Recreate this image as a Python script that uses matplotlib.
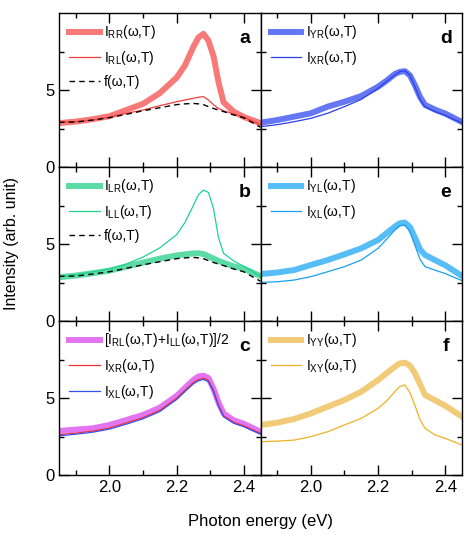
import numpy as np
import matplotlib
matplotlib.use('Agg')
import matplotlib.pyplot as plt
from matplotlib.ticker import MultipleLocator

plt.rcParams['font.family'] = ['Liberation Sans', 'DejaVu Sans']
plt.rcParams['mathtext.fontset'] = 'custom'
plt.rcParams['mathtext.rm'] = 'Liberation Sans'
plt.rcParams['mathtext.it'] = 'Liberation Sans:italic'

# энергия фотона (эВ)
E = [1.85, 1.90, 1.95, 2.00, 2.05, 2.10, 2.15, 2.20, 2.225, 2.25, 2.265, 2.28, 2.295, 2.31, 2.325, 2.34, 2.37, 2.40, 2.45]

# панель a
I_RR = [2.85, 2.95, 3.10, 3.30, 3.70, 4.10, 4.80, 5.80, 6.60, 7.80, 8.40, 8.65, 8.20, 7.20, 5.50, 4.20, 3.60, 3.25, 2.85]
I_RL = [2.90, 2.95, 3.05, 3.25, 3.48, 3.70, 3.98, 4.24, 4.35, 4.46, 4.53, 4.57, 4.35, 4.05, 3.80, 3.65, 3.45, 3.25, 2.75]
f_wT = [2.90, 2.92, 3.05, 3.20, 3.42, 3.65, 3.85, 4.05, 4.10, 4.13, 4.10, 4.05, 3.92, 3.80, 3.70, 3.60, 3.38, 3.20, 2.58]
# панель b
I_LR = [2.84, 2.95, 3.10, 3.27, 3.53, 3.79, 4.05, 4.26, 4.33, 4.39, 4.40, 4.35, 4.20, 4.05, 3.90, 3.78, 3.55, 3.40, 2.92]
I_LL = [2.88, 3.00, 3.20, 3.38, 3.70, 4.15, 4.75, 5.60, 6.40, 7.50, 8.20, 8.50, 8.35, 7.30, 5.40, 4.40, 3.90, 3.55, 2.90]
# панель c
I_avg = [2.86, 2.95, 3.03, 3.25, 3.57, 3.90, 4.37, 5.13, 5.65, 6.17, 6.40, 6.45, 6.30, 5.60, 4.70, 4.00, 3.55, 3.33, 2.81]
I_XR = [2.62, 2.72, 2.85, 3.05, 3.38, 3.72, 4.20, 4.98, 5.50, 6.00, 6.20, 6.28, 6.15, 5.50, 4.55, 3.85, 3.42, 3.20, 2.70]
I_XL_c = [2.55, 2.65, 2.78, 2.98, 3.30, 3.65, 4.12, 4.90, 5.42, 5.92, 6.12, 6.20, 6.07, 5.42, 4.47, 3.78, 3.36, 3.14, 2.65]
# панель d
I_YR = [2.88, 3.05, 3.27, 3.49, 3.92, 4.24, 4.61, 5.21, 5.60, 6.04, 6.18, 6.22, 5.95, 5.30, 4.55, 4.03, 3.72, 3.47, 2.92]
I_XR_d = [2.62, 2.75, 2.94, 3.16, 3.49, 3.92, 4.39, 5.11, 5.55, 5.97, 6.20, 6.25, 5.95, 5.20, 4.40, 3.90, 3.60, 3.35, 2.85]
# панель e
I_YL = [3.05, 3.15, 3.31, 3.64, 3.96, 4.33, 4.72, 5.26, 5.70, 6.13, 6.35, 6.39, 6.10, 5.40, 4.65, 4.29, 3.95, 3.62, 2.92]
I_XL = [2.51, 2.55, 2.66, 2.88, 3.20, 3.53, 3.96, 4.72, 5.30, 5.91, 6.18, 6.23, 5.80, 4.90, 4.00, 3.53, 3.30, 3.08, 2.62]
# панель f
I_YY = [3.25, 3.40, 3.64, 4.00, 4.44, 4.87, 5.41, 6.17, 6.60, 7.03, 7.25, 7.29, 7.10, 6.60, 5.90, 5.19, 4.85, 4.50, 3.79]
I_XY = [2.16, 2.20, 2.27, 2.49, 2.81, 3.25, 3.68, 4.33, 4.80, 5.41, 5.75, 5.84, 5.35, 4.50, 3.60, 3.03, 2.60, 2.38, 1.95]


def lab(sub):
    return 'I$_{\\mathrm{' + sub + '}}$(ω,T)'


# (кривая, цвет, толщина, стиль, подпись) для каждой панели
panels = {
    'a': [(I_RR, '#f77a78', 4.3, '-', lab('RR')),
          (I_RL, '#f23c3c', 0.9, '-', lab('RL')),
          (f_wT, 'black', 1.0, '--', 'f(ω,T)')],
    'b': [(I_LR, '#5cdba6', 4.3, '-', lab('LR')),
          (I_LL, '#1fd290', 0.9, '-', lab('LL')),
          (f_wT, 'black', 1.0, '--', 'f(ω,T)')],
    'c': [(I_avg, '#e374f2', 4.3, '-', '[' + lab('RL') + '+' + lab('LL') + ']/2'),
          (I_XR, '#f23232', 0.9, '-', lab('XR')),
          (I_XL_c, '#3552f0', 0.9, '-', lab('XL'))],
    'd': [(I_YR, '#6577f4', 4.3, '-', lab('YR')),
          (I_XR_d, '#2b40e8', 0.9, '-', lab('XR'))],
    'e': [(I_YL, '#57bdf7', 4.3, '-', lab('YL')),
          (I_XL, '#1b9ef0', 0.9, '-', lab('XL'))],
    'f': [(I_YY, '#f2cb78', 4.3, '-', lab('YY')),
          (I_XY, '#eeb224', 0.9, '-', lab('XY'))],
}

fig, axes = plt.subplots(3, 2, figsize=(4.74, 5.35), dpi=100)
fig.subplots_adjust(left=0.1245, right=0.9747, bottom=0.1121, top=0.9757, hspace=0, wspace=0)

order = [['a', 'd'], ['b', 'e'], ['c', 'f']]
for r in range(3):
    for c in range(2):
        ax = axes[r][c]
        key = order[r][c]
        for y, col, lw, ls, label in panels[key]:
            ax.plot(E, y, color=col, lw=lw, ls=ls, label=label,
                    dashes=(4, 3) if ls == '--' else (None, None))
        ax.set_xlim(1.85, 2.45)
        ax.set_ylim(0, 10)
        ax.xaxis.set_major_locator(MultipleLocator(0.2))
        ax.xaxis.set_minor_locator(MultipleLocator(0.1))
        ax.set_yticks([0, 5])
        ax.set_yticks([2.5, 7.5], minor=True)
        ax.tick_params(which='both', direction='in', top=True, right=True, width=1, labelsize=12)
        ax.tick_params(which='major', length=7)
        ax.tick_params(which='minor', length=3.5)
        for s in ax.spines.values():
            s.set_linewidth(1)
        if c == 1:
            ax.tick_params(labelleft=False)
        if r < 2:
            ax.tick_params(labelbottom=False)
        ax.legend(loc='upper left', frameon=False, fontsize=10, handlelength=2.2,
                  handletextpad=0.3, labelspacing=0.55, borderaxespad=0.45, borderpad=0.3)
        ax.text(0.92, 0.835, key, transform=ax.transAxes, ha='center', va='center',
                fontsize=14, fontweight='bold')

fig.text(0.025, 0.545, 'Intensity (arb. unit)', rotation=90, ha='center', va='center', fontsize=11.5)
fig.text(0.55, 0.025, 'Photon energy (eV)', ha='center', va='center', fontsize=12)

fig.savefig('out.png', dpi=100)
